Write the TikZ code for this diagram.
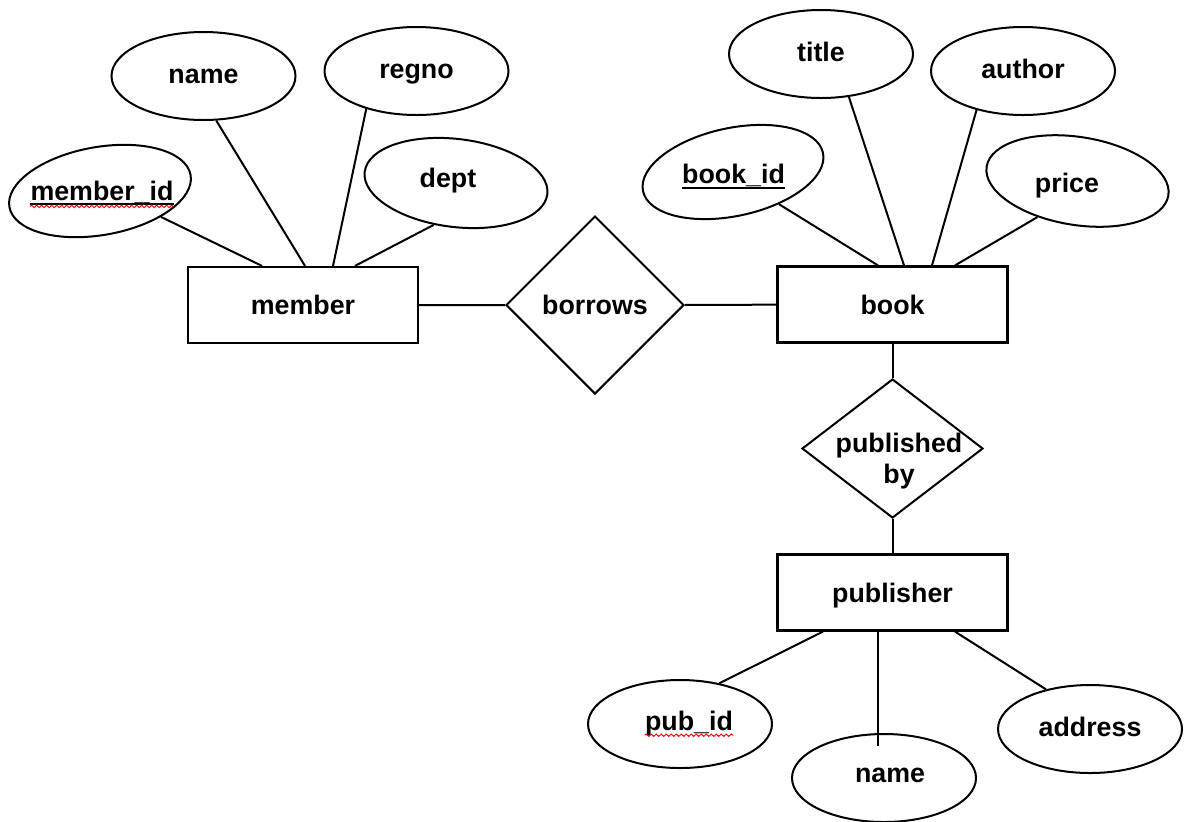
\documentclass[tikz,border=0pt]{standalone}
\usepackage{fontspec}
\setmainfont{Liberation Sans}
\usepackage{tikz}
\usetikzlibrary{shapes.geometric, decorations.pathmorphing}

\tikzset{
  ent/.style={draw, line width=1.1pt, minimum width=115pt, minimum height=38pt, inner sep=0pt, text height=9.8pt, text depth=0pt},
  attr/.style={draw, ellipse, line width=1pt, minimum width=92pt, minimum height=44pt, inner sep=0pt, text height=9.5pt, text depth=2.5pt},
  rel/.style={draw, diamond, line width=1pt, aspect=1, inner sep=0pt},
  lbl/.style={inner sep=0pt},
  link/.style={line width=1pt},
  keyline/.style={line width=1pt},
  squig/.style={red, line width=0.5pt, decorate, decoration={snake, amplitude=0.6pt, segment length=2.5pt}}
}

\begin{document}
\begin{tikzpicture}[x=0.5pt, y=-0.5pt, font=\bfseries\fontsize{13.4}{15.5}\selectfont]
\useasboundingbox (0,0) rectangle (1192,821);
\node[ent] (member) at (303,305) {member};
\node[ent] (book) at (892.5,304.5) {book};
\node[ent] (publisher) at (892.5,592.5) {publisher};
\node[rel, minimum width=89pt, minimum height=89pt] (borrows) at (595,305) {borrows};
\node[rel, minimum width=90.5pt, minimum height=69.5pt] (pubby) at (892.5,448.5) {};
\node[lbl, align=center] (pubbytxt) at (899,461) {published\\by};

\node[attr] (name) at (203.5,76) {name};
\node[attr] (regno) at (416.5,71) {regno};
\node[attr, rotate=-7] (dept) at (456,183) {};
\node[lbl, anchor=base] (depttxt) at (448,187) {dept};
\node[attr, rotate=10] (memid) at (100,191) {};
\node[lbl, anchor=base] (memidtxt) at (102,200) {member\_id};
\draw[keyline] ([yshift=-2pt]memidtxt.base west) -- ([yshift=-2pt]memidtxt.base east);
\draw[squig] ([yshift=-3.2pt]memidtxt.base west) -- ([yshift=-3.2pt]memidtxt.base east);

\node[attr, rotate=12] (bookid) at (733,172) {};
\node[lbl, anchor=base] (bookidtxt) at (733.5,183) {book\_id};
\draw[keyline] ([yshift=-2.4pt]bookidtxt.base west) -- ([yshift=-2.4pt]bookidtxt.base east);
\node[attr] (title) at (821,54) {title};
\node[attr] (author) at (1023,71) {author};
\node[attr, rotate=-9] (price) at (1077.5,181) {};
\node[lbl, anchor=base] (pricetxt) at (1067,192) {price};

\node[attr] (pubid) at (680,724) {};
\node[lbl, anchor=base] (pubidtxt) at (689,730) {pub\_id};
\draw[squig] ([yshift=-2.6pt]pubidtxt.base west) -- ([yshift=-2.6pt]pubidtxt.base east);
\node[attr] (pubname) at (884,778) {};
\node[lbl] (pubnametxt) at (890,775) {name};
\node[attr] (address) at (1090,729) {address};

\draw[link] (memid.-33) -- ([shift={(-41,0)}]member.north);
\draw[link] (name.-74) -- ([shift={(2,0)}]member.north);
\draw[link] (regno.-143) -- ([shift={(30,0)}]member.north);
\draw[link] (dept.-111) -- ([shift={(52,0)}]member.north);
\draw[link] (member) -- (borrows) -- (book);
\draw[link] (bookid.-47) -- ([shift={(-14.5,0)}]book.north);
\draw[link] (title.-57) -- ([shift={(11.5,0)}]book.north);
\draw[link] (author.-140) -- ([shift={(39.5,0)}]book.north);
\draw[link] (price.-129) -- ([shift={(62.5,0)}]book.north);
\draw[link] (book) -- (pubby) -- (publisher);
\draw[link] ([shift={(-69.5,0)}]publisher.south) -- (pubid.46);
\draw[link] ([shift={(-14.5,0)}]publisher.south) -- ([shift={(-6,-32)}]pubname.center);
\draw[link] ([shift={(62.5,0)}]publisher.south) -- (address.138);
\end{tikzpicture}
\end{document}
